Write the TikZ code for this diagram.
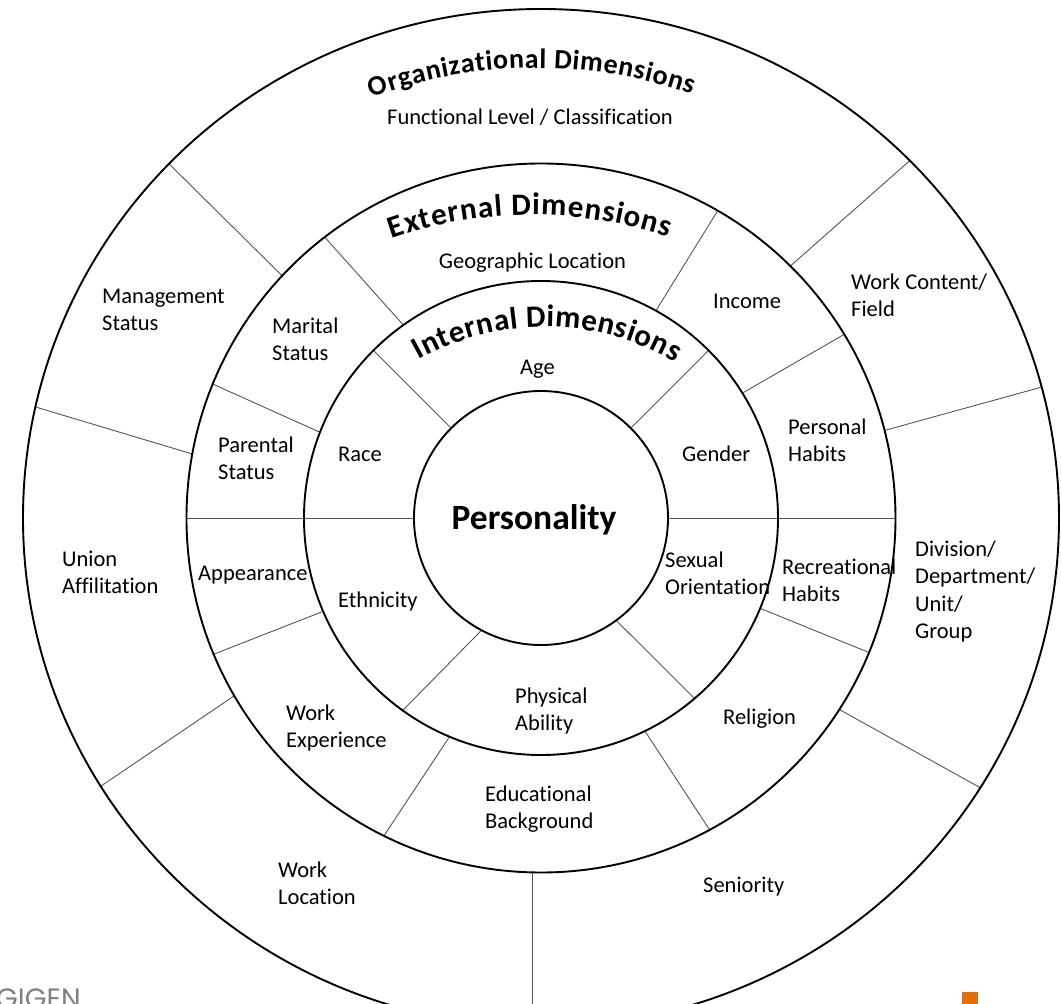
\documentclass[tikz,border=0pt]{standalone}
\usepackage{fontspec}
\setmainfont{Carlito}[Ligatures=NoCommon]
\newfontfamily\brandfont{Poppins}
\usetikzlibrary{decorations.text,calc}
\definecolor{brandorange}{RGB}{228,108,10}
\definecolor{brandgray}{RGB}{128,128,128}
\definecolor{divider}{RGB}{85,85,85}

\begin{document}
\begin{tikzpicture}[x=1pt,y=1pt,
  ring/.style={line width=1.9pt, black},
  divline/.style={line width=0.9pt, divider},
  % multi-line labels are anchored at the baseline of their last line
  lbl/.style={inner sep=0pt, anchor=base west, align=left, font=\fontsize{22.5}{27}\selectfont},
  clbl/.style={inner sep=0pt, anchor=base, align=center, font=\fontsize{22.5}{27}\selectfont},
]
\useasboundingbox (-541,-486) rectangle (520,518);
\clip (-541,-486) rectangle (520,518);

% ---- dividers of the internal ring
\draw[divline] (135:127pt) -- (135:237pt);
\draw[divline] (45:127pt) -- (45:237pt);
\draw[divline] (-53.7:127pt) -- (-49.6:237pt);
\draw[divline] (-117.9:127pt) -- (-125.7:237pt);
\draw[divline] (180:127pt) -- (180:354.5pt);
\draw[divline] (0:127pt) -- (0:354.5pt);

% ---- dividers of the external ring
\draw[divline] (125.5:237pt) -- (127.6:354.5pt);
\draw[divline] (61:237pt) -- (60.1:354.5pt);
\draw[divline] (31.8:237pt) -- (31.2:354.5pt);
\draw[divline] (-22.4:237pt) -- (-22.3:354.5pt);
\draw[divline] (-64:237pt) -- (-61.6:354.5pt);
\draw[divline] (-112.7:237pt) -- (-116.3:354.5pt);
\draw[divline] (-156.8:237pt) -- (-157.4:354.5pt);
\draw[divline] (158.8:237pt) -- (157.8:354.5pt);

% ---- dividers of the organizational ring
\draw[divline] (136.9:354.5pt) -- (135.9:518pt and 509pt);
\draw[divline] (45.3:354.5pt) -- (44.6:518pt and 509pt);
\draw[divline] (14.3:354.5pt) -- (14.9:518pt and 509pt);
\draw[divline] (-32.7:354.5pt) -- (-32:518pt and 509pt);
\draw[divline] (-9,-354.4) -- (-9,-530);
\draw[divline] (-149.9:354.5pt) -- (-148.2:518pt and 509pt);
\draw[divline] (169.6:354.5pt) -- (167.4:518pt and 509pt);

% ---- rings
\draw[ring] (0,0) ellipse [x radius=518pt, y radius=509pt];
\draw[ring] (0,0) circle [radius=354.5pt];
\draw[ring] (0,0) circle [radius=237pt];
\draw[ring] (0,0) circle [radius=127pt];

% ---- arched ring titles
\path[decorate, decoration={text along path, text align={fit to path},
  text={|\fontsize{28}{32}\selectfont\bfseries|Organizational Dimensions}}]
  ($(-5,-21)+(110.4:471pt)$) arc[start angle=110.4, end angle=70.7, radius=471pt];
\path[decorate, decoration={text along path, text align={fit to path},
  text={|\fontsize{31}{35}\selectfont\bfseries|External Dimensions}}]
  ($(-9,-127)+(109:430pt)$) arc[start angle=109, end angle=71.5, radius=430pt];
\path[decorate, decoration={text along path, text align={fit to path},
  text={|\fontsize{31}{35}\selectfont\bfseries|Internal Dimensions}}]
  ($(4,-67)+(119.3:258pt)$) arc[start angle=119.3, end angle=59.8, radius=258pt];

% ---- organizational dimensions
\node[clbl] (functional) at (-11,393) {Functional Level / Classification};
\node[lbl] (management) at (-439,187) {Management\\Status};
\node[lbl] (workcontent) at (310,201) {Work Content/\\Field};
\node[lbl] (union) at (-479,-75) {Union\\Affilitation};
\node[lbl] (division) at (374,-120) {Division/\\Department/\\Unit/\\Group};
\node[lbl] (worklocation) at (-263,-386) {Work\\Location};
\node[lbl] (seniority) at (162,-374) {Seniority};

% ---- external dimensions
\node[clbl] (geographic) at (-8.5,249) {Geographic Location};
\node[lbl] (marital) at (-269,157) {Marital\\Status};
\node[lbl] (income) at (172,209) {Income};
\node[lbl] (parental) at (-323,38) {Parental\\Status};
\node[lbl] (personalhabits) at (247,56) {Personal\\Habits};
\node[lbl] (appearance) at (-343,-63) {Appearance};
\node[lbl] (recreational) at (241,-83) {Recreational\\Habits};
\node[lbl] (workexp) at (-255,-229) {Work\\Experience};
\node[lbl] (religion) at (182,-206) {Religion};
\node[lbl] (educational) at (-56,-310) {Educational\\Background};

% ---- internal dimensions
\node[lbl] (age) at (-21,143) {Age};
\node[lbl] (race) at (-203,56) {Race};
\node[lbl] (gender) at (141,56) {Gender};
\node[lbl] (sexual) at (124,-76) {Sexual\\Orientation};
\node[lbl] (ethnicity) at (-203,-89) {Ethnicity};
\node[lbl] (physical) at (-26,-212) {Physical\\Ability};

% ---- core
\node[inner sep=0pt, anchor=base, font=\fontsize{35.5}{40}\selectfont\bfseries] (personality) at (-7,-12) {Personality};

% ---- slide footer marks
\node[inner sep=0pt, anchor=base west, text=brandgray, font=\brandfont\fontsize{28}{28}\selectfont] (brand) at (-545,-490) {GIGEN};
\fill[brandorange] (421,-474) rectangle (437,-492);
\end{tikzpicture}
\end{document}
